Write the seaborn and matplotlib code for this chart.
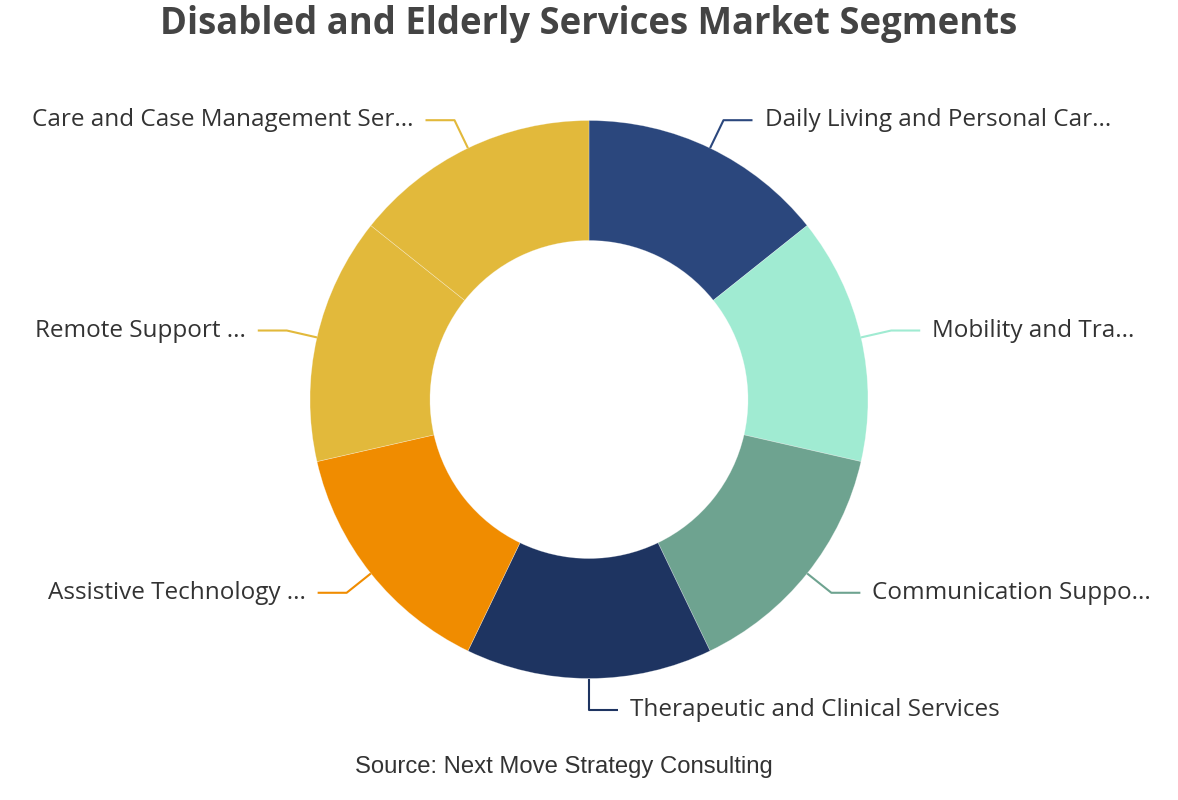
import numpy as np
import matplotlib
matplotlib.use("Agg")
import matplotlib.pyplot as plt
import seaborn as sns

# segment data (equal shares)
segments = ["Daily Living and Personal Car...", "Mobility and Tra...", "Communication Suppo...",
            "Therapeutic and Clinical Services", "Assistive Technology ...", "Remote Support ...",
            "Care and Case Management Ser..."]
shares = [14.29, 14.29, 14.29, 14.29, 14.29, 14.29, 14.29]
colors = ["#2B477D", "#A0EBD2", "#6EA390", "#1E3461", "#F08C00", "#E2B93B", "#E2B93B"]

title = "Disabled and Elderly Services Market Segments"
source = "Source: Next Move Strategy Consulting"

sns.set_theme(style="white")
plt.rcParams['font.family'] = ['Open Sans', 'DejaVu Sans']

W, H = 1178, 800
fig = plt.figure(figsize=(W / 100, H / 100), dpi=100)
ax = fig.add_axes([0, 0, 1, 1])

cx, cy = 589, H - 399.5
r_out, r_in = 279, 159

wedges, _ = ax.pie(shares, colors=colors, startangle=90, counterclock=False,
                   radius=r_out, center=(cx, cy),
                   wedgeprops=dict(width=r_out - r_in, edgecolor=(1, 1, 1, 0.35), linewidth=0.5))

ax.set_xlim(0, W)
ax.set_ylim(0, H)
ax.set_aspect("equal")
ax.axis("off")

# leader lines and labels
for w, lab, col in zip(wedges, segments, colors):
    ang = np.deg2rad((w.theta1 + w.theta2) / 2)
    ca, sa = np.cos(ang), np.sin(ang)
    x0, y0 = cx + r_out * ca, cy + r_out * sa
    x1, y1 = cx + (r_out + 31) * ca, cy + (r_out + 31) * sa
    side = 1 if ca >= -1e-6 else -1
    x2 = x1 + side * 29
    ax.plot([x0, x1, x2], [y0, y1, y1], color=col, lw=1.5, solid_capstyle="butt")
    ax.text(x2 + side * 12, y1, lab, ha="left" if side > 0 else "right", va="center",
            fontsize=17.5, color="#333333")

fig.text(0.5, 1 - 24 / H, title, ha="center", va="center", fontsize=26.3,
         fontweight="bold", color="#444444")
fig.text(564 / W, 1 - 767 / H, source, ha="center", va="center", fontsize=17.2,
         color="#333333", family=["Liberation Sans", "DejaVu Sans"])

fig.savefig("out.png", dpi=100, facecolor="white")
